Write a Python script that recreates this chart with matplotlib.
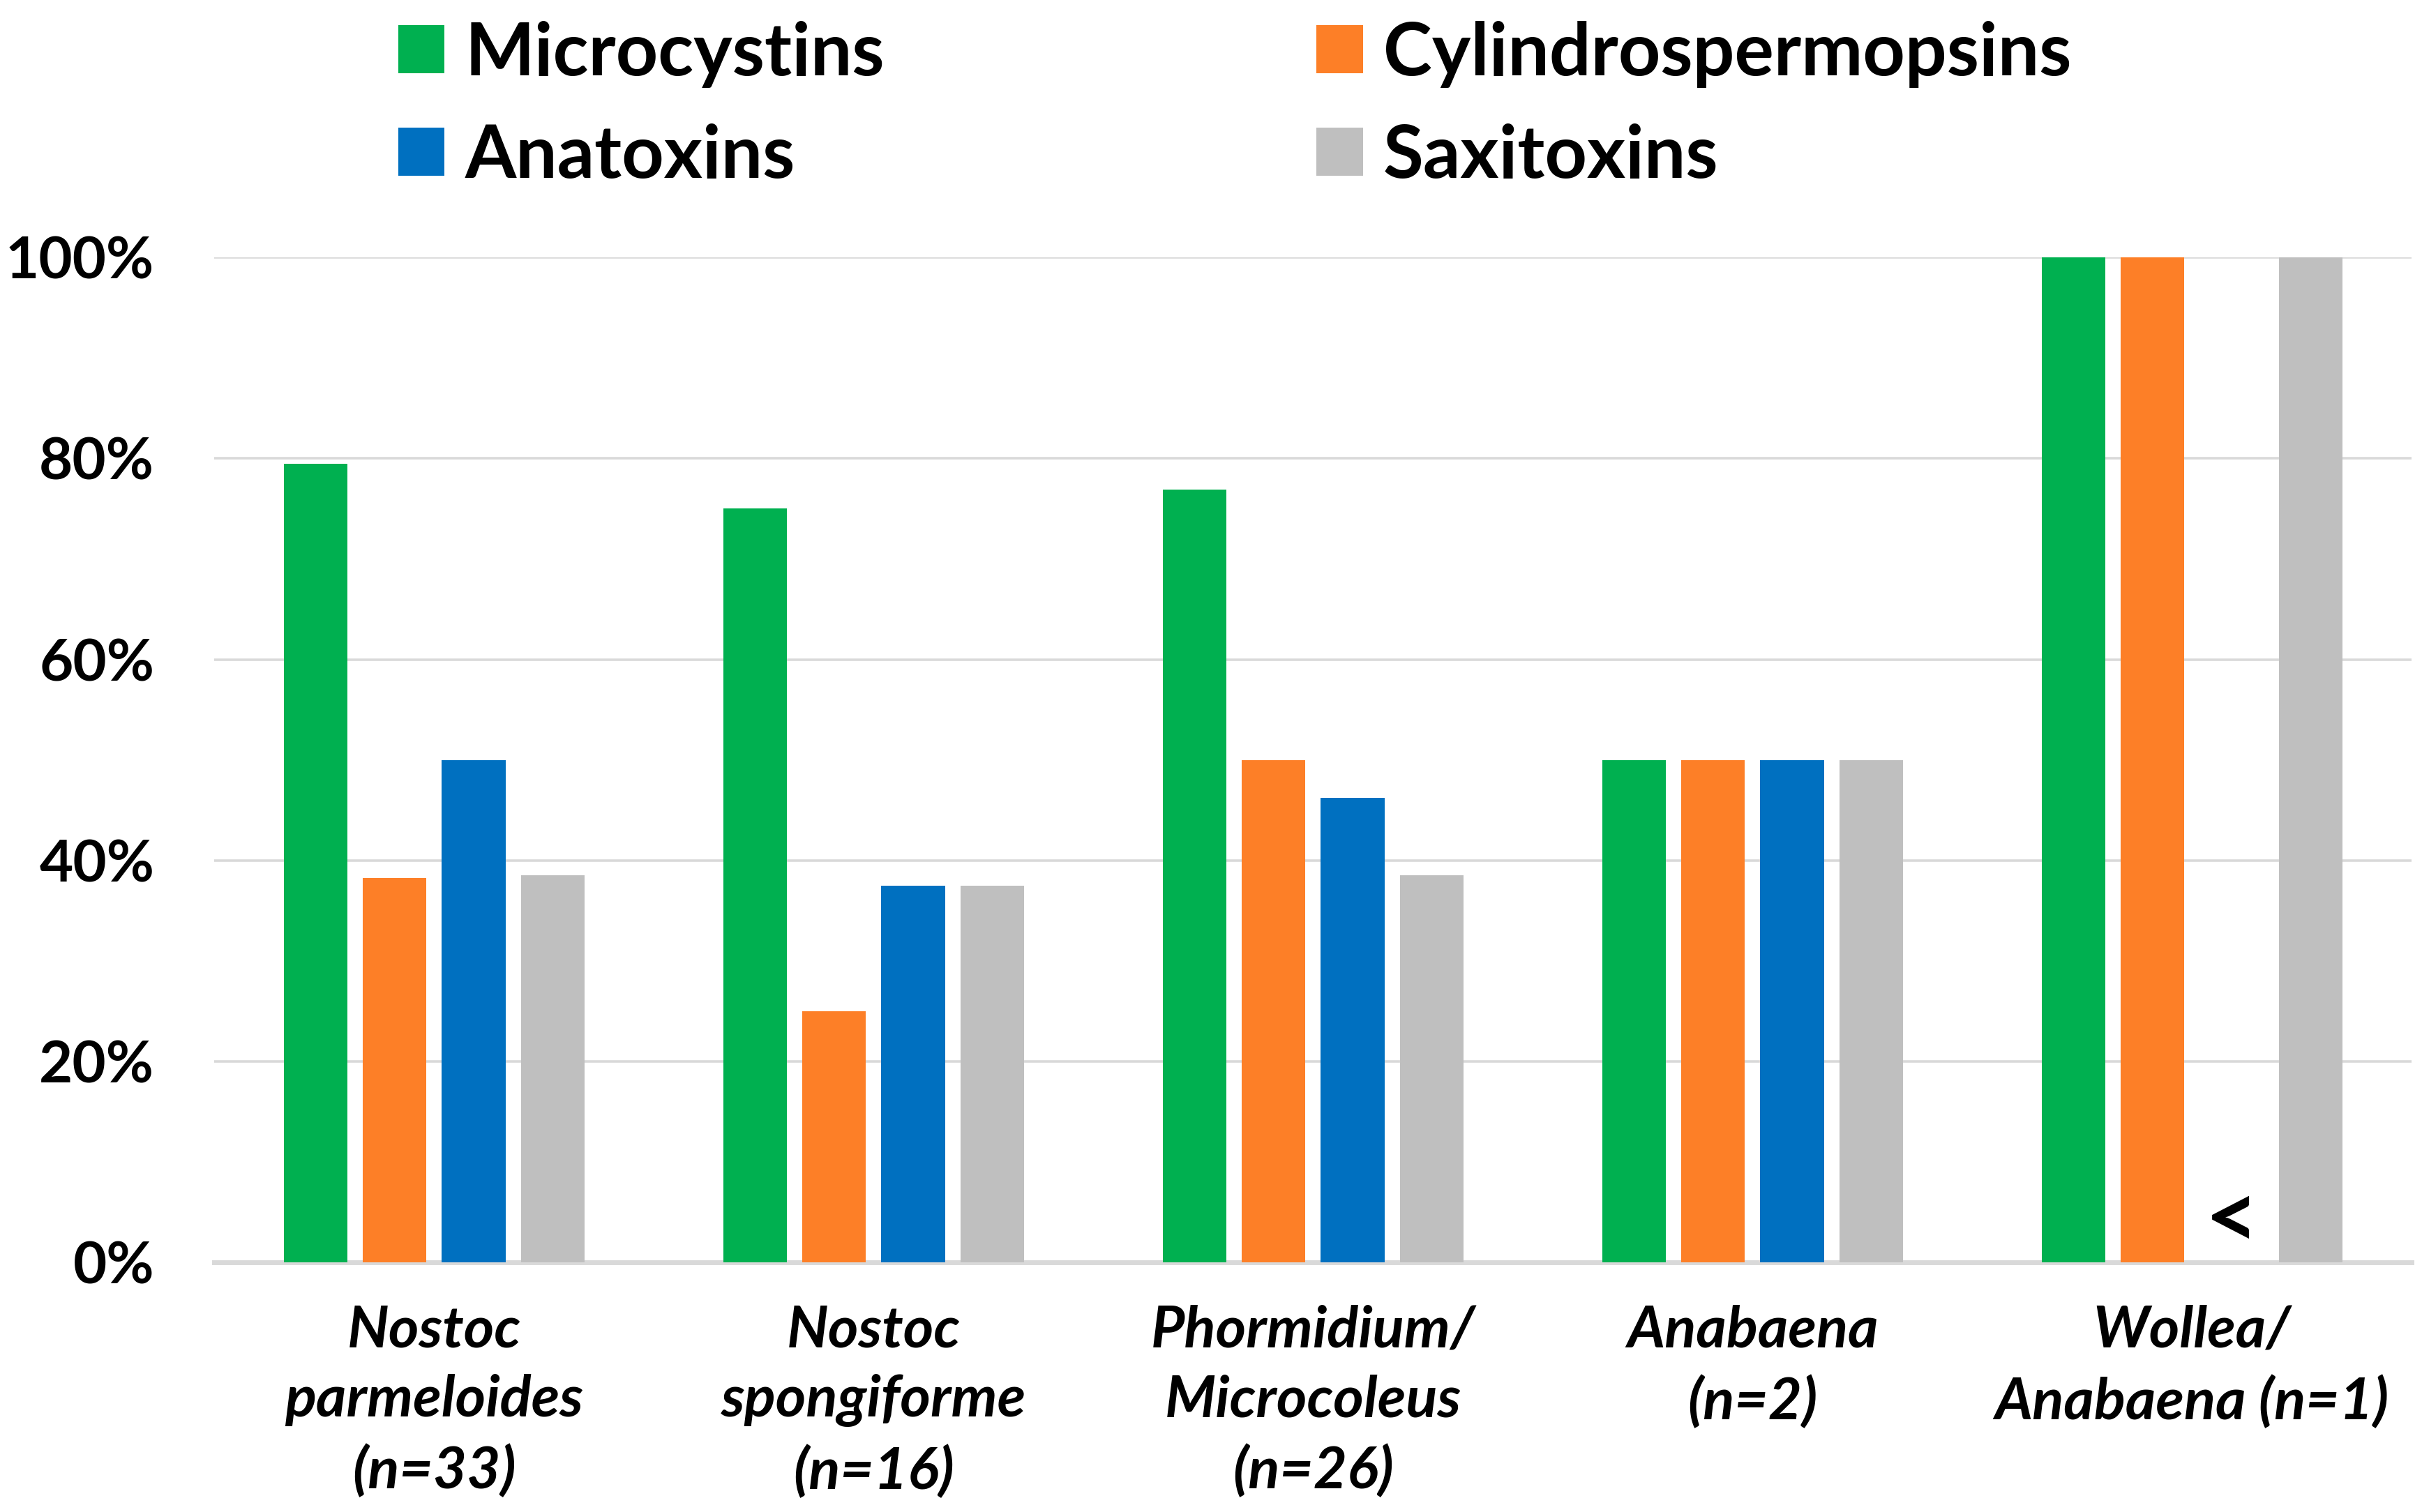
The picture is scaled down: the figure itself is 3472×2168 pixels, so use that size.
import numpy as np
import matplotlib
matplotlib.use("Agg")
import matplotlib.pyplot as plt

plt.rcParams['font.family'] = ['Lato', 'DejaVu Sans']

groups = ["Nostoc\nparmeloides\n(n=33)", "Nostoc\nspongiforme\n(n=16)",
          "Phormidium/\nMicrocoleus\n(n=26)", "Anabaena\n(n=2)",
          "Wollea/\nAnabaena (n=1)"]
microcystins = [0.795, 0.75, 0.769, 0.50, 1.00]
cylindrospermopsins = [0.382, 0.25, 0.50, 0.50, 1.00]
anatoxins = [0.50, 0.375, 0.462, 0.50, np.nan]
saxitoxins = [0.385, 0.375, 0.385, 0.50, 1.00]

series = [("Microcystins", microcystins, "#00B050"),
          ("Cylindrospermopsins", cylindrospermopsins, "#FD7F27"),
          ("Anatoxins", anatoxins, "#0070C0"),
          ("Saxitoxins", saxitoxins, "#BFBFBF")]

fig = plt.figure(figsize=(17.365, 10.84), dpi=200)
ax = fig.add_axes([0.0885, 0.1653, 0.907, 0.6643])

x = np.arange(len(groups))
offsets = [-0.27, -0.09, 0.09, 0.27]
bars = {}
for (name, vals, col), off in zip(series, offsets):
    bars[name] = ax.bar(x + off, vals, width=0.145, color=col, label=name,
                        zorder=3, clip_on=False)

# below detection marker for the Wollea anatoxin value
ax.text(x[4] + offsets[2], 0.04, "<", ha="center", va="center",
        fontsize=48, fontweight="bold", zorder=4)

ax.set_xlim(-0.5, 4.5)
ax.set_ylim(0, 1)
ax.set_yticks(np.arange(0, 1.01, 0.2))
ax.set_yticklabels(["0%", "20%", "40%", "60%", "80%", "100%"],
                   fontsize=30, fontweight="bold")
ax.set_xticks(x)
ax.set_xticklabels(groups, fontsize=30, fontweight="bold", style="italic",
                   linespacing=1.4, va="top")
ax.tick_params(axis="both", length=0)
ax.tick_params(axis="x", pad=22)
ax.tick_params(axis="y", pad=31)
ax.yaxis.grid(True, color="#D9D9D9", linewidth=1.3, zorder=0)
ax.set_axisbelow(True)
for s in ["top", "right", "left"]:
    ax.spines[s].set_visible(False)
ax.spines["bottom"].set_color("#D9D9D9")
ax.spines["bottom"].set_linewidth(2.5)

order = ["Microcystins", "Anatoxins", "Cylindrospermopsins", "Saxitoxins"]
leg = fig.legend([bars[n] for n in order], order, ncol=2, loc="upper left",
                 bbox_to_anchor=(0.137, 1.03), frameon=False,
                 prop={"size": 38, "weight": "bold"},
                 handlelength=0.63, handleheight=0.63, handletextpad=0.28,
                 columnspacing=5.86, labelspacing=0.48)

fig.savefig("out.png", dpi=200)
